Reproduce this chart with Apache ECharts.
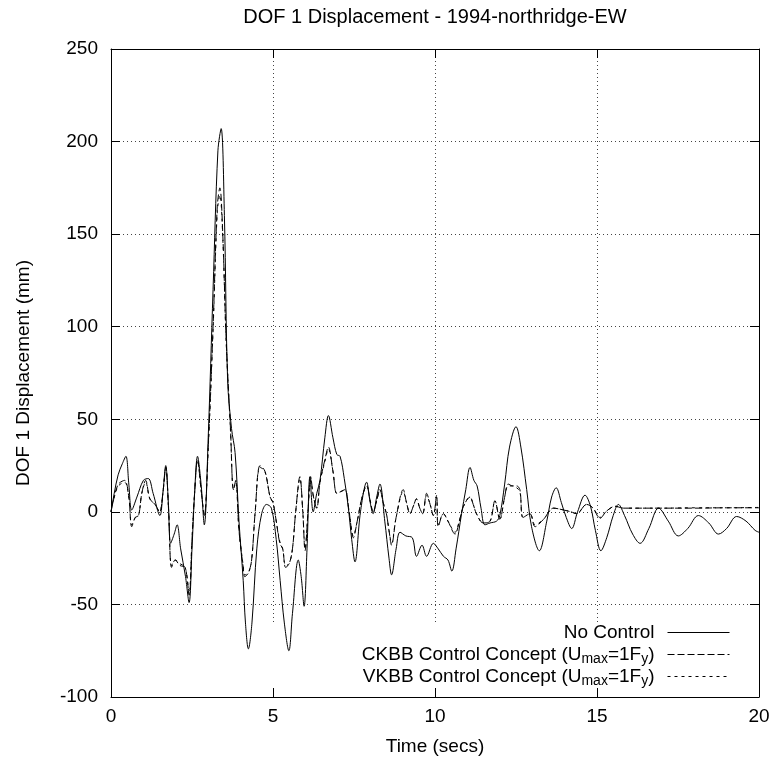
<!DOCTYPE html>
<html>
<head>
<meta charset="utf-8">
<script src="https://cdn.jsdelivr.net/npm/echarts@6/dist/echarts.min.js"></script>
<style>html,body{margin:0;padding:0;background:#fff}#c{width:773px;height:767px}</style>
</head>
<body>
<div id="c"></div>
<script>
const titleText = 'DOF 1 Displacement - 1994-northridge-EW';
const xTicks = [0, 5, 10, 15, 20];
const yTicks = [-100, -50, 0, 50, 100, 150, 200, 250];
const seriesNames = ['No Control', 'CKBB Control Concept (Umax=1Fy)', 'VKBB Control Concept (Umax=1Fy)'];

const noControl = [
[0,0],[0.1,10],[0.22,20],[0.35,26],[0.46,30],[0.55,15],[0.64,1],[0.8,8],[1.0,17],[1.15,18],[1.3,10],[1.51,-2],[1.6,10],[1.69,25],[1.77,5],[1.84,-17],[1.95,-12],[2.04,-7],[2.15,-20],[2.3,-35],[2.41,-49],[2.5,-20],[2.58,10],[2.67,30],[2.78,15],[2.88,-7],[3.0,40],[3.15,120],[3.3,195],[3.4,207],[3.5,160],[3.6,71],[3.72,45],[3.83,32],[3.95,-5],[4.08,-37],[4.15,-60],[4.24,-74],[4.35,-60],[4.5,-20],[4.65,-1],[4.8,4],[4.95,2],[5.1,-15],[5.22,-37],[5.35,-60],[5.49,-75],[5.6,-55],[5.78,-26],[5.87,-35],[5.96,-51],[6.05,-20],[6.14,19],[6.24,0],[6.35,10],[6.45,17],[6.6,40],[6.71,52],[6.85,40],[6.97,31],[7.07,30],[7.2,18],[7.32,3],[7.43,-15],[7.53,-27],[7.7,0],[7.89,16],[8.0,5],[8.09,-1],[8.2,8],[8.3,15],[8.45,-5],[8.58,-25],[8.66,-34],[8.8,-20],[8.92,-11],[9.1,-13],[9.3,-14],[9.43,-24],[9.6,-18],[9.74,-24],[9.95,-17],[10.1,-20],[10.26,-24],[10.4,-26],[10.52,-32],[10.65,-20],[10.82,-1],[10.95,12],[11.08,24],[11.2,17],[11.3,14],[11.42,2],[11.54,-7],[11.7,-6],[11.9,-5],[12.0,-2],[12.15,15],[12.3,35],[12.5,46],[12.65,35],[12.83,12],[12.98,-8],[13.22,-21],[13.45,-5],[13.6,8],[13.74,13],[13.9,5],[14.05,-3],[14.22,-9],[14.4,0],[14.63,9],[14.8,3],[14.95,-10],[15.12,-21],[15.3,-14],[15.5,-2],[15.66,4],[15.85,-2],[16.1,-12],[16.33,-17],[16.6,-9],[16.9,2],[17.2,-5],[17.51,-13],[17.8,-9],[18.13,-2],[18.45,-6],[18.75,-12],[19.0,-9],[19.31,-2.5],[19.6,-5],[19.88,-10],[20,-11]
];

const ckbb = [
[0,0],[0.1,8],[0.23,15],[0.42,17],[0.55,8],[0.64,-8],[0.75,-3],[0.85,-2],[0.95,10],[1.07,17],[1.2,7],[1.36,4],[1.5,0],[1.6,10],[1.69,24],[1.78,0],[1.87,-30],[1.98,-26],[2.13,-29],[2.29,-30],[2.41,-45],[2.5,-15],[2.58,10],[2.67,28],[2.78,12],[2.88,-2],[3.0,35],[3.15,100],[3.28,165],[3.36,175],[3.45,150],[3.55,95],[3.69,44],[3.78,12],[3.85,17],[3.95,-10],[4.08,-30],[4.13,-35],[4.24,-33],[4.34,-26],[4.45,0],[4.6,25],[4.75,22],[4.91,8],[5.0,5],[5.1,-5],[5.21,-17],[5.3,-20],[5.39,-30],[5.5,-28],[5.6,-20],[5.7,0],[5.83,19],[5.92,0],[5.99,-21],[6.08,0],[6.16,19],[6.25,8],[6.35,2],[6.45,16],[6.6,28],[6.71,35],[6.85,22],[6.97,10],[7.1,11],[7.22,12],[7.35,0],[7.48,-14],[7.6,-5],[7.75,8],[7.89,14],[8.0,6],[8.09,0],[8.2,6],[8.3,12],[8.4,5],[8.5,-1],[8.58,-10],[8.66,-18],[8.8,-3],[9.02,12],[9.12,5],[9.23,-1],[9.33,3],[9.43,7],[9.53,2],[9.62,-1],[9.74,10],[9.85,4],[9.95,-2],[10.05,9],[10.1,-8],[10.26,-1],[10.4,-5],[10.62,-12],[10.75,-5],[10.88,3],[11.08,8],[11.18,4],[11.28,-1],[11.49,-6],[11.7,-5],[11.85,6],[12.0,-4],[12.15,8],[12.26,15],[12.4,14],[12.52,14],[12.62,12],[12.72,-3],[12.93,-1],[13.09,-8],[13.35,-4],[13.66,2],[13.97,1],[14.2,0],[14.37,-1],[14.68,4],[14.88,2],[15.09,-3.5],[15.3,0.5],[15.56,3],[15.82,2],[16.5,2],[17,2],[18,2],[19,2.2],[20,2.2]
];

const vkbb = [
[0,0],[0.1,8],[0.23,14],[0.42,16],[0.55,8],[0.64,-7],[0.75,-3],[0.85,-2],[0.95,10],[1.07,16],[1.2,7],[1.36,4],[1.5,0],[1.6,10],[1.69,24],[1.78,0],[1.87,-29],[1.98,-26],[2.13,-28],[2.29,-30],[2.41,-44],[2.5,-15],[2.58,10],[2.67,28],[2.78,12],[2.88,-2],[3.0,34],[3.15,98],[3.28,162],[3.36,171],[3.45,148],[3.55,94],[3.69,43],[3.78,12],[3.85,16],[3.95,-10],[4.08,-29],[4.13,-34],[4.24,-33],[4.34,-26],[4.45,0],[4.6,24],[4.75,22],[4.91,8],[5.0,5],[5.1,-5],[5.21,-16],[5.3,-20],[5.39,-29],[5.5,-28],[5.6,-20],[5.7,0],[5.83,18],[5.92,0],[5.99,-20],[6.08,0],[6.16,18],[6.25,8],[6.35,2],[6.45,16],[6.6,27],[6.71,34],[6.85,22],[6.97,10],[7.1,11],[7.22,12],[7.35,0],[7.48,-13],[7.6,-5],[7.75,8],[7.89,14],[8.0,6],[8.09,0],[8.2,6],[8.3,12],[8.4,5],[8.5,-1],[8.58,-10],[8.66,-17],[8.8,-3],[9.02,11],[9.12,5],[9.23,-1],[9.33,3],[9.43,7],[9.53,2],[9.62,-1],[9.74,9],[9.85,4],[9.95,-2],[10.05,8],[10.1,-7],[10.26,-1],[10.4,-5],[10.62,-11],[10.75,-5],[10.88,3],[11.08,8],[11.18,4],[11.28,-1],[11.49,-6],[11.7,-5],[11.85,6],[12.0,-4],[12.15,8],[12.26,14],[12.4,14],[12.52,13],[12.62,11],[12.72,-3],[12.93,-1],[13.09,-7],[13.35,-4],[13.66,2],[13.97,1],[14.2,0],[14.37,-1],[14.68,4],[14.88,2],[15.09,-3],[15.3,0.5],[15.56,3],[15.82,2],[16.5,2],[17,2],[18,2.2],[19,2.2],[20,2.4]
];

const FONT = 'Liberation Sans, Arial, Helvetica, sans-serif';
const FS = 19;
const chart = echarts.init(document.getElementById('c'), null, {renderer: 'canvas'});

const gridLine = {show: true, lineStyle: {color: '#444', width: 1, type: [1, 3]}};
const axLine = {show: true, onZero: false, lineStyle: {color: '#000', width: 1}};
const tick = {show: true, inside: true, length: 9, lineStyle: {color: '#000', width: 1}};

function legendItem(name, top) {
  return {
    data: [name], right: 43, top: top, orient: 'vertical', align: 'right',
    padding: 0, itemWidth: 62, itemHeight: 12, selectedMode: false,
    itemStyle: {opacity: 0, borderWidth: 0},
    lineStyle: {width: 1},
    textStyle: {
      fontFamily: FONT, fontSize: FS, color: '#000', padding: [0, 8, 0, 0],
      rich: {
        m: {fontFamily: FONT, fontSize: FS, color: '#000', lineHeight: 24},
        s: {fontFamily: FONT, fontSize: 14, color: '#000', lineHeight: 14, verticalAlign: 'bottom'}
      }
    },
    formatter: function (n) {
      if (n === seriesNames[0]) return '{m|' + n + '}';
      const head = n.split(' (')[0];
      return '{m|' + head + ' (U}{s|max}{m|=1F}{s|y}{m|)}';
    }
  };
}

chart.setOption({
  backgroundColor: '#fff',
  animation: false,
  title: {
    text: titleText, left: 430, top: 2, textAlign: 'center',
    textStyle: {fontFamily: FONT, fontSize: 20, fontWeight: 'normal', color: '#000'}
  },
  grid: {left: 111, right: 14, top: 49, bottom: 70, show: false},
  legend: [
    legendItem(seriesNames[0], 623),
    legendItem(seriesNames[1], 645),
    legendItem(seriesNames[2], 667)
  ],
  graphic: [{
    type: 'rect', z: 1, silent: true,
    shape: {x: 262, y: 623, width: 495, height: 64},
    style: {fill: '#fff'}
  }],
  xAxis: [{
    type: 'value', min: xTicks[0], max: xTicks[xTicks.length - 1], interval: 5,
    name: 'Time (secs)', nameLocation: 'middle', nameGap: 40,
    nameTextStyle: {fontFamily: FONT, fontSize: FS, color: '#000'},
    axisLine: axLine, axisTick: tick, splitLine: gridLine,
    axisLabel: {fontFamily: FONT, fontSize: FS, color: '#000', margin: 10}
  }, {
    type: 'value', position: 'top', min: xTicks[0], max: xTicks[xTicks.length - 1], interval: 5,
    axisLine: axLine, axisTick: tick, splitLine: {show: false}, axisLabel: {show: false}
  }],
  yAxis: [{
    type: 'value', min: yTicks[0], max: yTicks[yTicks.length - 1], interval: 50,
    name: 'DOF 1 Displacement (mm)', nameLocation: 'middle', nameGap: 78, nameRotate: 90,
    nameTextStyle: {fontFamily: FONT, fontSize: FS, color: '#000'},
    axisLine: axLine, axisTick: tick, splitLine: gridLine,
    axisLabel: {fontFamily: FONT, fontSize: FS, color: '#000', margin: 13}
  }, {
    type: 'value', position: 'right', min: yTicks[0], max: yTicks[yTicks.length - 1], interval: 50,
    axisLine: axLine, axisTick: tick, splitLine: {show: false}, axisLabel: {show: false}
  }],
  series: [
    {name: seriesNames[0], type: 'line', data: noControl, showSymbol: false, symbol: 'none', smooth: 0.35, z: 3,
     lineStyle: {color: '#000', width: 1, type: 'solid'}, itemStyle: {color: '#000'}},
    {name: seriesNames[1], type: 'line', data: ckbb, showSymbol: false, symbol: 'none', smooth: 0.35, z: 4,
     lineStyle: {color: '#000', width: 1, type: [7, 3]}, itemStyle: {color: '#000'}},
    {name: seriesNames[2], type: 'line', data: vkbb, showSymbol: false, symbol: 'none', smooth: 0.35, z: 5,
     lineStyle: {color: '#000', width: 1, type: [3, 4]}, itemStyle: {color: '#000'}}
  ]
});
</script>
</body>
</html>
